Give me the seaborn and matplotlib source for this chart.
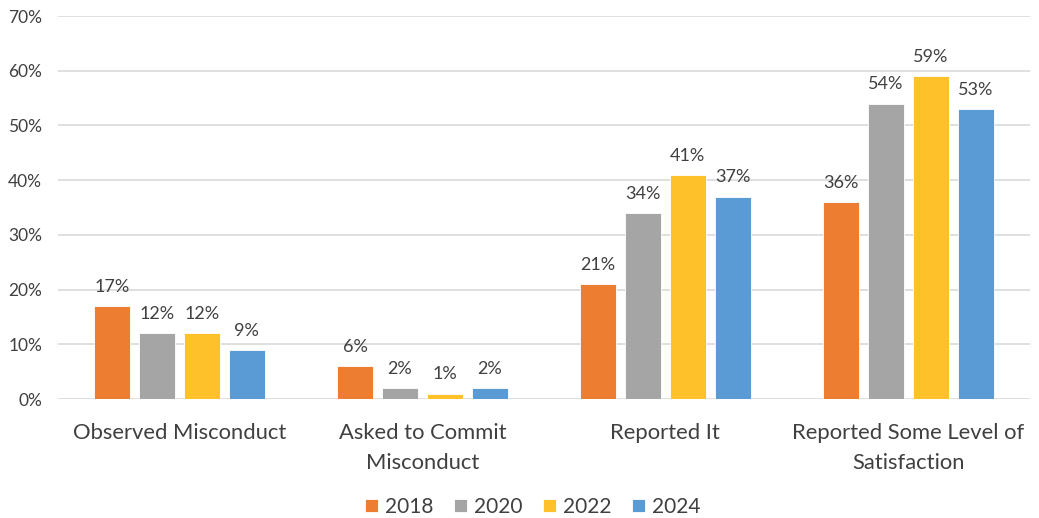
import matplotlib
matplotlib.use("Agg")
import matplotlib.pyplot as plt
import seaborn as sns
import pandas as pd

categories = ["Observed Misconduct", "Asked to Commit\nMisconduct",
              "Reported It", "Reported Some Level of\nSatisfaction"]
years = ["2018", "2020", "2022", "2024"]
values_2018 = [17, 6, 21, 36]
values_2020 = [12, 2, 34, 54]
values_2022 = [12, 1, 41, 59]
values_2024 = [9, 2, 37, 53]
yticks = [0, 10, 20, 30, 40, 50, 60, 70]

colors = ["#ED7D31", "#A5A5A5", "#FFC12A", "#5B9BD5"]
text_color = "#404040"

series = [values_2018, values_2020, values_2022, values_2024]
rows = []
for year, vals in zip(years, series):
    for cat, v in zip(categories, vals):
        rows.append({"category": cat, "year": year, "value": v})
df = pd.DataFrame(rows)

sns.set_style("white")
plt.rcParams["font.family"] = ["Lato", "DejaVu Sans"]

fig = plt.figure(figsize=(10.39, 5.18), dpi=100)
ax = fig.add_axes([0.0558, 0.2297, 0.9352, 0.7393])

sns.barplot(data=df, x="category", y="value", hue="year", order=categories,
            hue_order=years, palette=colors, width=0.74, gap=0.2,
            saturation=1, edgecolor="white", linewidth=0.6, ax=ax,
            legend=True, errorbar=None)

for container in ax.containers:
    ax.bar_label(container, labels=[f"{int(v)}%" for v in container.datavalues],
                 padding=8, fontsize=13, color=text_color)

ax.set_ylim(0, 70)
ax.set_xlim(-0.5, 3.5)
ax.set_yticks(yticks)
ax.set_yticklabels([f"{t}%" for t in yticks], fontsize=12.5, color=text_color)
ax.tick_params(axis="y", length=0, pad=11.5)
ax.tick_params(axis="x", length=0, pad=17, labelsize=15.8, labelcolor=text_color)
for lbl in ax.get_xticklabels():
    lbl.set_linespacing(1.65)
ax.yaxis.grid(True, color="#D9D9D9", linewidth=1.2)
ax.set_axisbelow(True)
for side in ["top", "right", "left", "bottom"]:
    ax.spines[side].set_visible(False)
ax.set_xlabel("")
ax.set_ylabel("")

handles, labels = ax.get_legend_handles_labels()
ax.get_legend().remove()
fig.legend(handles, labels, loc="center", bbox_to_anchor=(0.513, 0.022),
           ncol=4, frameon=False, fontsize=15, handlelength=0.6,
           handleheight=0.6, handletextpad=0.35, columnspacing=1.0,
           labelcolor=text_color)

fig.savefig("out.png", dpi=100)
